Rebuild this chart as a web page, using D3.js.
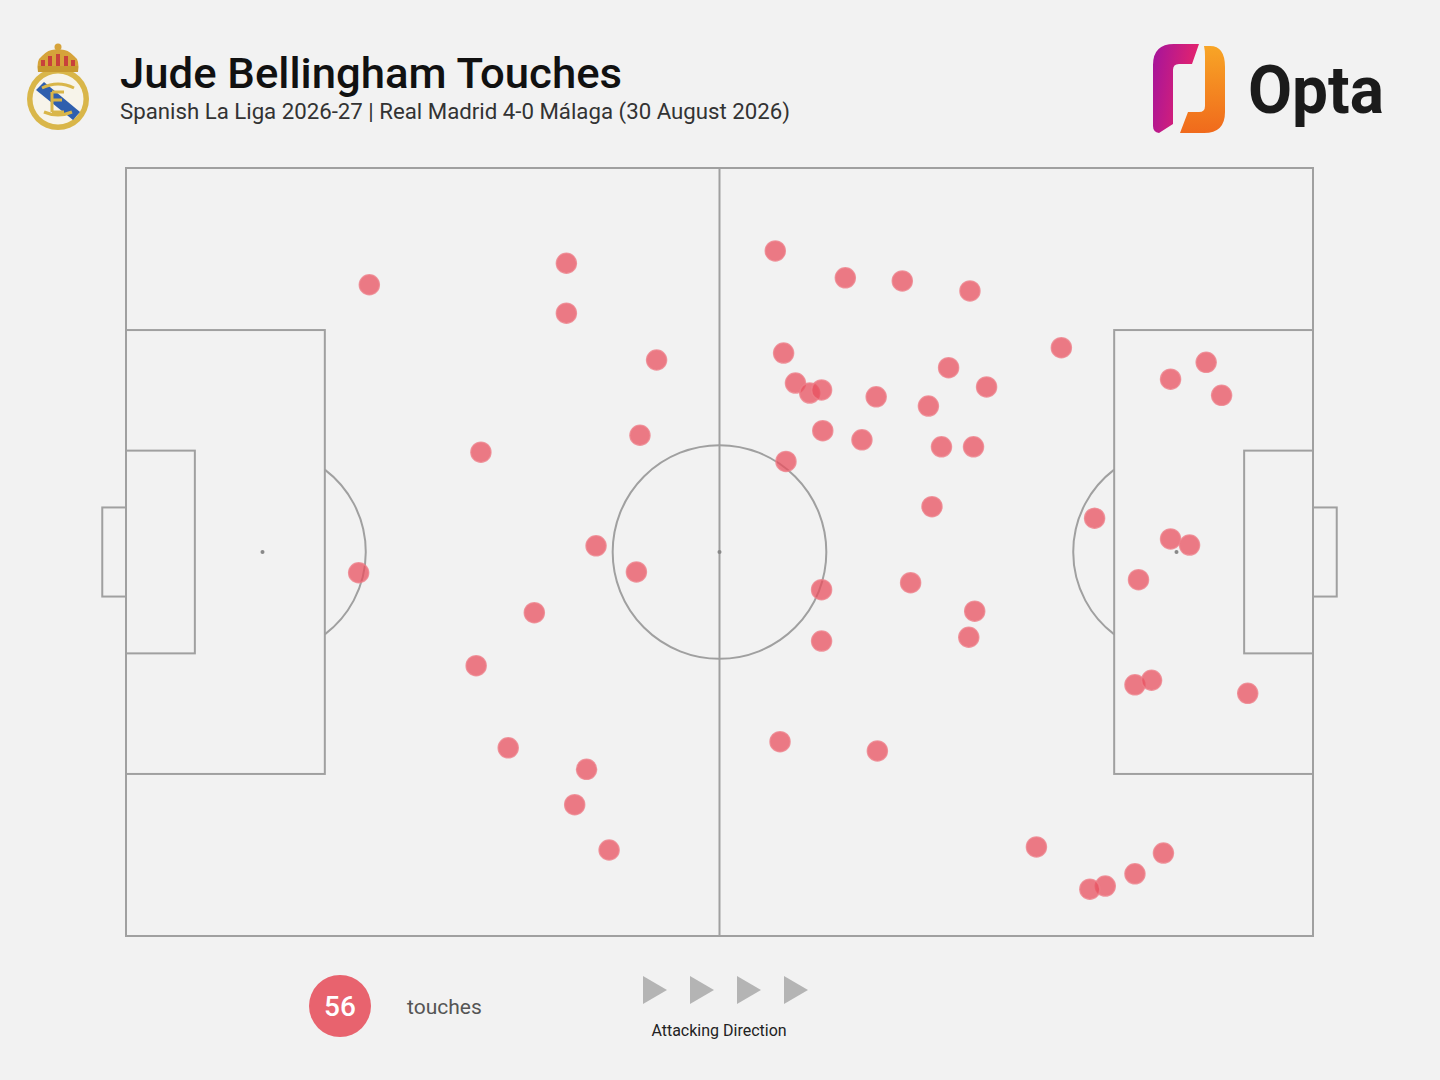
<!DOCTYPE html>
<html>
<head>
<meta charset="utf-8">
<script src="https://cdn.jsdelivr.net/npm/d3@7"></script>
<style>
html,body{margin:0;padding:0;background:#f2f2f2;}
svg{display:block;font-family:Roboto,"Noto Sans",sans-serif;}
</style>
</head>
<body>
<svg id="chart" width="1440" height="1080"></svg>
<script>
// ---- data (Opta coordinates: x 0-100 along pitch, attacking right; y 0-100 bottom to top)
const touchX = [20.5,37.1,37.1,44.7,43.3,29.9,19.6,39.6,43.0,34.4,29.5,32.2,38.8,37.8,40.7,
  54.7,60.6,65.4,71.1,55.4,56.4,57.6,58.6,63.2,69.3,72.5,67.6,58.7,62.0,68.7,71.4,55.6,67.9,
  78.8,88.0,91.0,92.3,81.6,88.0,89.6,85.3,58.6,66.1,71.5,71.0,58.6,85.0,86.4,94.5,55.1,63.3,
  76.7,87.4,85.0,82.5,81.2];
const touchY = [84.8,87.6,81.1,75.0,65.2,63.0,47.3,50.8,47.4,42.1,35.2,24.5,21.7,17.1,11.2,
  89.2,85.7,85.3,84.0,75.9,72.0,70.7,71.1,70.2,74.0,71.5,69.0,65.8,64.6,63.7,63.7,61.8,55.9,
  76.6,72.5,74.7,70.4,54.4,51.7,50.9,46.4,45.1,46.0,42.3,38.9,38.4,32.7,33.3,31.6,25.3,24.1,
  11.6,10.8,8.1,6.5,6.1];
const totalTouches = 56;
const titleText = "Jude Bellingham Touches";
const subtitleText = "Spanish La Liga 2026-27 | Real Madrid 4-0 Málaga (30 August 2026)";
const legendLabel = "touches";
const directionLabel = "Attacking Direction";
const arrowSteps = [0,1,2,3];

const svg = d3.select("#chart");
svg.append("rect").attr("width",1440).attr("height",1080).attr("fill","#f2f2f2");

// ---- scales
const x = d3.scaleLinear().domain([0,100]).range([126,1313]);
const y = d3.scaleLinear().domain([0,100]).range([936,168]);
const lineCol = "#a0a0a0";
const pitch = svg.append("g").attr("fill","none").attr("stroke",lineCol).attr("stroke-width",2);

function rect(x0,x1,y0,y1){
  pitch.append("rect").attr("x",x(x0)).attr("y",y(y1))
    .attr("width",x(x1)-x(x0)).attr("height",y(y0)-y(y1));
}
rect(0,100,0,100);
pitch.append("line").attr("x1",x(50)).attr("x2",x(50)).attr("y1",y(0)).attr("y2",y(100));
// boxes
const boxD = 16.75, spot = 11.5;
rect(0,boxD,21.1,78.9); rect(100-boxD,100,21.1,78.9);
rect(0,5.8,36.8,63.2); rect(94.2,100,36.8,63.2);
rect(-2,0,44.2,55.8); rect(100,102,44.2,55.8);
const r = x(9) - x(0);
const rp = x(8.7) - x(0);
pitch.append("circle").attr("cx",x(50)).attr("cy",y(50)).attr("r",r);
// penalty arcs
const dx = x(boxD) - x(spot);
const th = Math.acos(dx/rp);
function arcPath(cx, cy, a0, a1){
  const p = d3.path();
  p.moveTo(cx + rp*Math.cos(a0), cy + rp*Math.sin(a0));
  p.arc(cx, cy, rp, a0, a1, false);
  return p.toString();
}
pitch.append("path").attr("d",arcPath(x(spot), y(50), -th, th));
pitch.append("path").attr("d",arcPath(x(100-spot), y(50), Math.PI-th, Math.PI+th));
// spots
[[spot,50],[50,50],[100-spot,50]].forEach(p=>{
  svg.append("circle").attr("cx",x(p[0])).attr("cy",y(p[1])).attr("r",2).attr("fill","#888");
});

// ---- touches
svg.append("g").selectAll("circle").data(d3.range(touchX.length)).join("circle")
  .attr("cx",i=>x(touchX[i])).attr("cy",i=>y(touchY[i])).attr("r",10)
  .attr("fill","#e8505f").attr("fill-opacity",0.75)
  .attr("stroke","#ee7f8a").attr("stroke-width",1.5).attr("stroke-opacity",0.8);

// ---- title
svg.append("text").attr("x",120).attr("y",88).attr("font-size",43).attr("font-weight",500)
  .attr("fill","#111").attr("textLength",502).attr("lengthAdjust","spacingAndGlyphs").text(titleText);
svg.append("text").attr("x",120).attr("y",119).attr("font-size",22)
  .attr("fill","#333").attr("textLength",670).attr("lengthAdjust","spacingAndGlyphs").text(subtitleText);

// ---- crest (simplified)
const crest = svg.append("g");
crest.append("circle").attr("cx",58).attr("cy",99).attr("r",31).attr("fill","#d9b649");
crest.append("circle").attr("cx",58).attr("cy",99).attr("r",25.5).attr("fill","#f7f4ea");
crest.append("path").attr("d","M36,90 L44,82 L80,112 L73,120 Z").attr("fill","#2f5fae");
crest.append("path").attr("d","M42,88 Q58,80 74,88 M44,112 Q58,118 72,112 M52,92 L52,112 M52,100 L62,100 M52,92 L64,92 M52,112 L64,112")
  .attr("stroke","#d9b649").attr("stroke-width",3).attr("fill","none");
// crown
crest.append("path").attr("d","M38,72 Q36,60 42,56 Q50,48 58,50 Q66,48 74,56 Q80,60 78,72 Z").attr("fill","#d6a33a");
crest.append("path").attr("d","M43,70 L43,60 M50,70 L50,56 M58,70 L58,54 M66,70 L66,56 M73,70 L73,60").attr("stroke","#c8413b").attr("stroke-width",4);
crest.append("rect").attr("x",38).attr("y",66).attr("width",40).attr("height",6).attr("fill","#c89a30");
crest.append("circle").attr("cx",58).attr("cy",47).attr("r",3.5).attr("fill","#d6a33a");

// ---- Opta logo
const defs = svg.append("defs");
const g1 = defs.append("linearGradient").attr("id","gL").attr("x1","0").attr("y1","0").attr("x2","1").attr("y2","0.3");
g1.append("stop").attr("offset","0").attr("stop-color","#a4149c");
g1.append("stop").attr("offset","1").attr("stop-color","#e8246a");
const g2 = defs.append("linearGradient").attr("id","gR").attr("x1","0").attr("y1","0").attr("x2","0").attr("y2","1");
g2.append("stop").attr("offset","0").attr("stop-color","#f8a526");
g2.append("stop").attr("offset","1").attr("stop-color","#f06a1c");
svg.append("path").attr("d","M1199,44 L1174,44 Q1153,44 1153,65 L1153,126 Q1153,132 1159,133 L1173,124 L1173,70 Q1173,64 1179,64 L1192,64 Z").attr("fill","url(#gL)");
svg.append("path").attr("d","M1180,133 L1204,133 Q1225,133 1225,112 L1225,67 Q1225,46 1210,46 L1204,46 Q1205,50 1205,56 L1205,106 Q1205,112 1199,112 L1188,112 Z").attr("fill","url(#gR)");
svg.append("text").attr("x",1248).attr("y",113).attr("font-size",67).attr("font-weight",700)
  .attr("fill","#1b1b1b").attr("textLength",136).attr("lengthAdjust","spacingAndGlyphs").text("Opta");

// ---- legend
svg.append("circle").attr("cx",340).attr("cy",1006).attr("r",31).attr("fill","#e8636e");
svg.append("text").attr("x",340).attr("y",1016).attr("text-anchor","middle").attr("font-size",28)
  .attr("font-weight",500).attr("fill","#fff").text(totalTouches);
svg.append("text").attr("x",407).attr("y",1014).attr("font-size",21).attr("fill","#555").text(legendLabel);
svg.append("g").selectAll("path").data(arrowSteps).join("path")
  .attr("d",d=>{const x0=643+d*47; return `M${x0},976 L${x0+24},990 L${x0},1004 Z`;})
  .attr("fill","#b4b4b4");
svg.append("text").attr("x",719).attr("y",1036).attr("text-anchor","middle").attr("font-size",16)
  .attr("fill","#222").text(directionLabel);
</script>
</body>
</html>
